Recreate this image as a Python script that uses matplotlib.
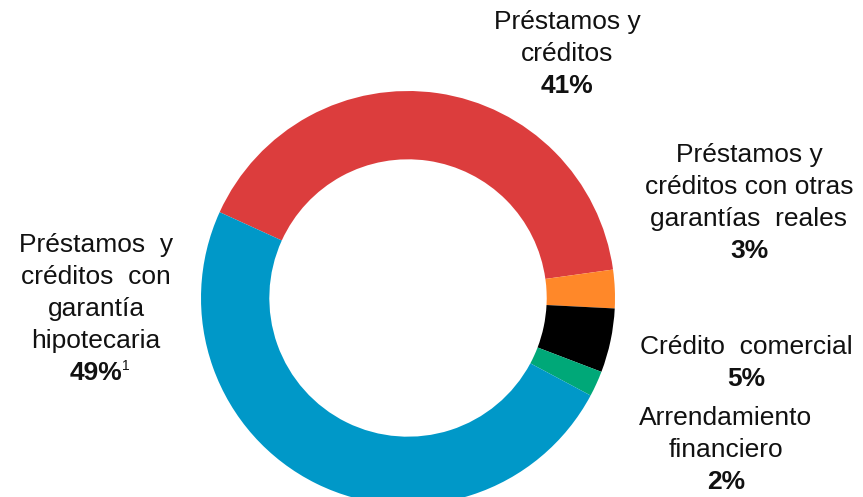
import matplotlib.pyplot as plt

plt.rcParams['font.family'] = ['Liberation Sans', 'DejaVu Sans']

# Datos (% de la cartera)
categorias = ['Préstamos y créditos',
              'Préstamos y créditos con otras garantías reales',
              'Crédito comercial',
              'Arrendamiento financiero',
              'Préstamos y créditos con garantía hipotecaria']
valores = [41, 3, 5, 2, 49]
colores = ['#DC3D3D', '#FF8829', '#000000', '#00A878', '#0098C8']

# Etiquetas: líneas de texto y porcentaje en negrita
etiquetas = [['Préstamos y', 'créditos'],
             ['Préstamos y', 'créditos con otras', 'garantías  reales'],
             ['Crédito  comercial'],
             ['Arrendamiento', 'financiero'],
             ['Préstamos  y', 'créditos  con', 'garantía', 'hipotecaria']]
# posición (x centro, y primera línea) en píxeles desde arriba
posiciones = [(567, 22), (749, 155), (746, 347), (726, 418), (96, 245)]
salto = 32
fs = 19

W, H = 863, 497
fig = plt.figure(figsize=(W / 100, H / 100), dpi=100)
ax = fig.add_axes([0, 0, 1, 1])

ax.pie(valores, colors=colores, startangle=155.5, counterclock=False,
       center=(408, H - 298), radius=207,
       wedgeprops=dict(width=207 * 0.33, edgecolor='none'))
ax.set_xlim(0, W)
ax.set_ylim(0, H)
ax.set_aspect('equal')
ax.axis('off')

for lineas, v, (x, y) in zip(etiquetas, valores, posiciones):
    for i, l in enumerate(lineas):
        ax.text(x, H - (y + i * salto), l, ha='center', va='center',
                fontsize=fs, color='#111111')
    yp = H - (y + len(lineas) * salto)
    ax.text(x, yp, f'{v}%', ha='center', va='center', fontsize=fs,
            fontweight='bold', color='#111111')
    if v == 49:
        # nota al pie (superíndice)
        ax.text(x + 26, yp + 3, '1', ha='left', va='baseline', fontsize=10,
                color='#111111')

fig.savefig('out.png', dpi=100)
